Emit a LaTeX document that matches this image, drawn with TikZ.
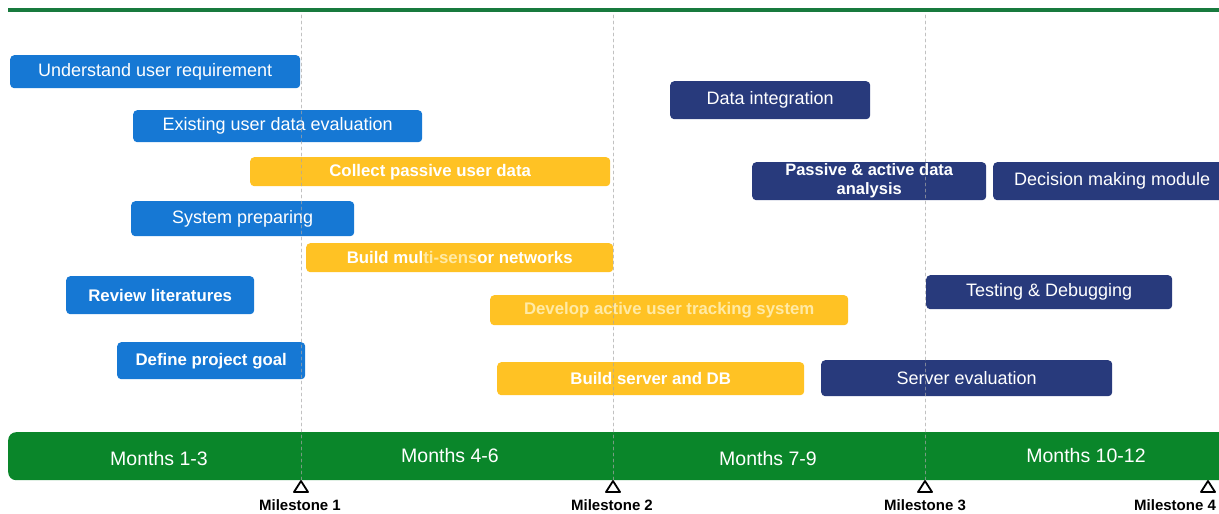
\documentclass[tikz,border=0pt]{standalone}
\usepackage{fontspec}
\setmainfont{Liberation Sans}
\definecolor{taskblue}{RGB}{22,120,212}
\definecolor{tasknavy}{RGB}{40,58,124}
\definecolor{taskyellow}{RGB}{255,194,36}
\definecolor{bargreen}{RGB}{10,134,42}
\definecolor{linegreen}{RGB}{24,122,62}
\definecolor{fadetext}{RGB}{255,234,165}
\begin{document}
\begin{tikzpicture}[x=1pt, y=-1pt, line join=round, line cap=round,
	task/.style={rounded corners=4pt, anchor=north west, inner sep=0pt, text=white, align=center},
	bluetask/.style={task, fill=taskblue, font=\fontsize{18}{20}\selectfont},
	boldblue/.style={bluetask, font=\fontsize{16.8}{20}\selectfont\bfseries},
	yellowtask/.style={task, fill=taskyellow, font=\fontsize{16.8}{19}\selectfont\bfseries},
	navytask/.style={task, fill=tasknavy, font=\fontsize{18}{20}\selectfont},
	monthlabel/.style={text=white, font=\fontsize{19.5}{21}\selectfont},
	mslabel/.style={inner sep=1pt, font=\fontsize{15}{16}\selectfont\bfseries},
	msline/.style={gray!70, line width=0.6pt, dashed, dash pattern=on 3pt off 3pt, opacity=0.7},
	mstri/.style={black, line width=1.8pt}]
	\useasboundingbox (0,0) rectangle (1219,514);
	
	\path 
	(8,10) coordinate (topL)
	(1219,10) coordinate (topR)
	(301,15) coordinate (d1)
	(613,15) coordinate (d2)
	(925,15) coordinate (d3)
	(301,481) coordinate (ms1)
	(613,481) coordinate (ms2)
	(925,481) coordinate (ms3)
	(1208,481) coordinate (ms4)
	(300,493) coordinate[label={[mslabel, label distance=5pt]below:Milestone 1}] (mb1)
	(612,493) coordinate[label={[mslabel, label distance=5pt]below:Milestone 2}] (mb2)
	(925,493) coordinate[label={[mslabel, label distance=5pt]below:Milestone 3}] (mb3)
	(1175,493) coordinate[label={[mslabel, label distance=5pt]below:Milestone 4}] (mb4)
	;
	\draw[linegreen, line width=3.5pt, line cap=butt] (topL)--(topR);
	
	% timeline bar
	\node[fill=bargreen, rounded corners=8pt, anchor=north west, minimum width=1240pt, minimum height=48pt, inner sep=0pt] (bar) at (8,432) {};
	\node[monthlabel] (mo1) at (159,459) {Months 1-3};
	\node[monthlabel] (mo2) at (450,456) {Months 4-6};
	\node[monthlabel] (mo3) at (768,459) {Months 7-9};
	\node[monthlabel] (mo4) at (1086,456) {Months 10-12};
	
	% months 1-3
	\node[bluetask, minimum width=290pt, minimum height=33pt] (req) at (10,55) {Understand user requirement};
	\node[bluetask, minimum width=289pt, minimum height=32pt] (eval) at (133,110) {Existing user data evaluation};
	\node[bluetask, minimum width=223pt, minimum height=35pt] (prep) at (131,201) {System preparing};
	\node[boldblue, minimum width=188pt, minimum height=38pt] (lit) at (66,276) {Review literatures};
	\node[boldblue, minimum width=188pt, minimum height=37pt] (goal) at (117,342) {Define project goal};
	
	% months 4-6
	\node[yellowtask, minimum width=360pt, minimum height=29pt] (collect) at (250,157) {Collect passive user data};
	\node[yellowtask, minimum width=307pt, minimum height=29pt] (sensor) at (306,243) {Build mul\textcolor{fadetext}{ti-sens}or networks};
	\node[yellowtask, minimum width=358pt, minimum height=30pt, text=fadetext] (track) at (490,295) {Develop active user tracking system};
	\node[yellowtask, minimum width=307pt, minimum height=33pt] (server) at (497,362) {Build server and DB};
	
	% months 7-12
	\node[navytask, minimum width=200pt, minimum height=38pt] (integ) at (670,81) {Data integration};
	\node[navytask, minimum width=234pt, minimum height=38pt, font=\fontsize{16.5}{19}\selectfont\bfseries] (analysis) at (752,162) {Passive \& active data\\analysis};
	\node[navytask, minimum width=238pt, minimum height=38pt] (decide) at (993,162) {Decision making module};
	\node[navytask, minimum width=246pt, minimum height=34pt] (test) at (926,275) {Testing \& Debugging};
	\node[navytask, minimum width=291pt, minimum height=36pt] (srveval) at (821,360) {Server evaluation};
	
	% milestones
	\draw[msline] (d1)--(ms1) (d2)--(ms2) (d3)--(ms3);
	\foreach \m in {ms1,ms2,ms3,ms4}
		\draw[mstri] (\m)--++(-7,11)--++(14,0)--cycle;
	
\end{tikzpicture}
\end{document}
